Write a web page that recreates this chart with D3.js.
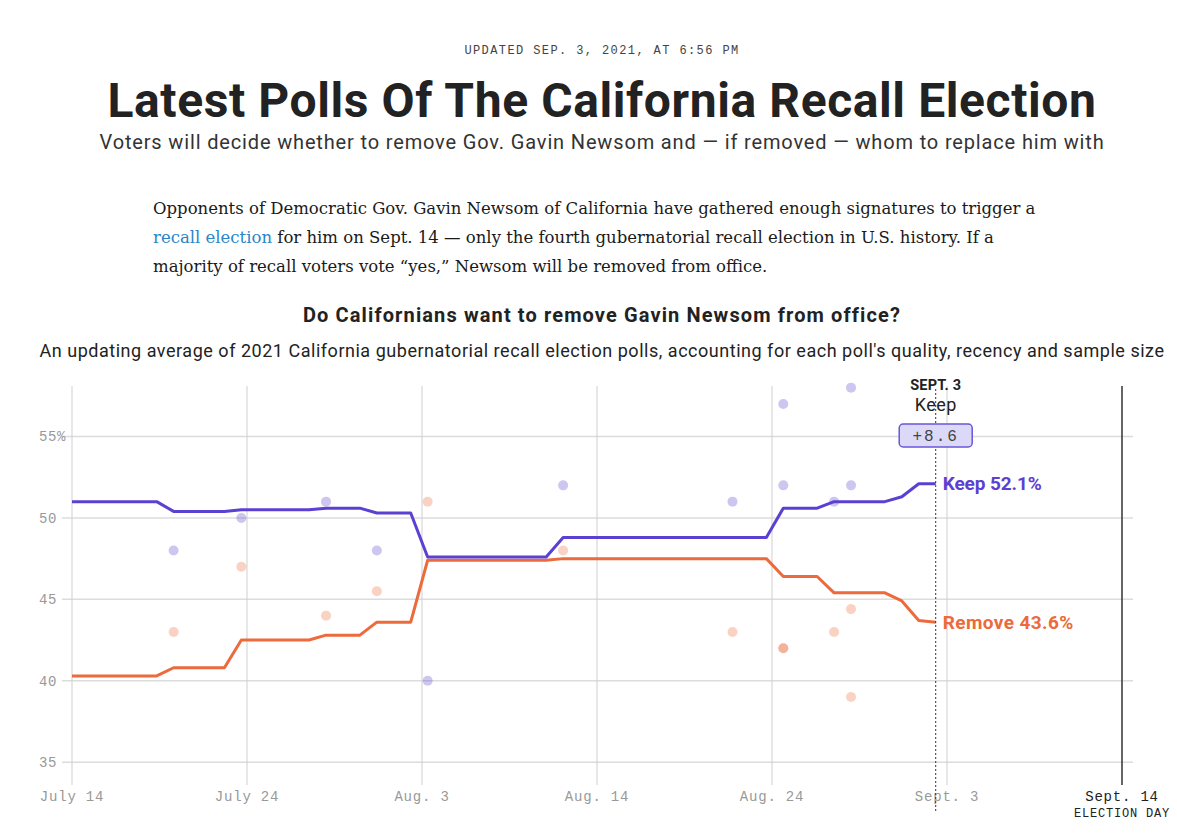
<!DOCTYPE html>
<html><head><meta charset="utf-8">
<script src="https://cdn.jsdelivr.net/npm/d3@7"></script>
<style>
body{margin:0;background:#fff;}
svg{display:block;}
</style>
</head><body>
<svg id="chart" width="1177" height="839"></svg>
<script>
// ---------- DATA ----------
const startDate = "2021-07-14";
const endDate = "2021-09-14";
const latestDate = "2021-09-03";
// daily polling averages, starting July 14
const keepAvg = [51.0,51.0,51.0,51.0,51.0,51.0,
  50.4,50.4,50.4,50.4,
  50.5,50.5,50.5,50.5,50.5,
  50.6,50.6,50.6,
  50.3,50.3,50.3,
  47.6,47.6,47.6,47.6,47.6,47.6,47.6,47.6,
  48.8,48.8,48.8,48.8,48.8,48.8,48.8,48.8,48.8,48.8,48.8,48.8,48.8,
  50.6,50.6,50.6,
  51.0,51.0,51.0,51.0,
  51.3,52.1,52.1];
const removeAvg = [40.3,40.3,40.3,40.3,40.3,40.3,
  40.8,40.8,40.8,40.8,
  42.5,42.5,42.5,42.5,42.5,
  42.8,42.8,42.8,
  43.6,43.6,43.6,
  47.4,47.4,47.4,47.4,47.4,47.4,47.4,47.4,
  47.5,47.5,47.5,47.5,47.5,47.5,47.5,47.5,47.5,47.5,47.5,47.5,47.5,
  46.4,46.4,46.4,
  45.4,45.4,45.4,45.4,
  44.9,43.7,43.6];
// individual polls
const pollDates = ["2021-07-20","2021-07-24","2021-07-29","2021-08-01","2021-08-04","2021-08-12",
  "2021-08-22","2021-08-25","2021-08-25","2021-08-28","2021-08-29","2021-08-29"];
const pollKeep =   [48, 50, 51, 48,   40, 52, 51, 57, 52, 51, 58, 52];
const pollRemove = [43, 47, 44, 45.5, 51, 48, 43, 42, 42, 43, 39, 44.4];
const yTicks = [35, 40, 45, 50, 55];
const xTickLabels = ["July 14","July 24","Aug. 3","Aug. 14","Aug. 24","Sept. 3","Sept. 14"];
const seriesNames = ["Keep","Remove"];
const leadMargin = "+8.6";

// ---------- LAYOUT ----------
const W = 1177, H = 839, CX = 602;
const plotL = 72, plotR = 1122, plotT = 386, plotB = 785;
const keepColor = "#5c40d2", removeColor = "#ec6a3b";
const mono = "'Liberation Mono','DejaVu Sans Mono',monospace";
const sans = "Roboto,'Noto Sans',sans-serif";
const serif = "'DejaVu Serif','Liberation Serif',serif";

const svg = d3.select("#chart");
svg.append("rect").attr("width", W).attr("height", H).attr("fill", "#fff");

// widen text to a target width with letter-spacing (keeps glyph height)
function fit(sel, target) {
  const node = sel.node();
  const len = node.getComputedTextLength();
  const n = node.textContent.length;
  if (n > 1) sel.style("letter-spacing", ((target - len) / n) + "px");
  return sel;
}

const parse = d3.utcParse("%Y-%m-%d");
const t0 = parse(startDate), t1 = parse(endDate), tLatest = parse(latestDate);

const x = d3.scaleUtc().domain([t0, t1]).range([plotL, plotR]);
const y = d3.scaleLinear().domain([33.6, 58.1]).range([plotB, plotT]);

// ---------- HEADER ----------
svg.append("text").attr("x", CX).attr("y", 54).attr("text-anchor", "middle")
  .style("font-family", mono).style("font-size", "12px").style("letter-spacing", "1.4px")
  .attr("fill", "#444").text("UPDATED SEP. 3, 2021, AT 6:56 PM");

fit(svg.append("text").attr("x", CX).attr("y", 117).attr("text-anchor", "middle")
  .style("font-family", sans).style("font-weight", 700).style("font-size", "48px")
  .attr("fill", "#222").text("Latest Polls Of The California Recall Election"), 989);

fit(svg.append("text").attr("x", CX).attr("y", 149).attr("text-anchor", "middle")
  .style("font-family", sans).style("font-size", "20px")
  .attr("fill", "#333").text("Voters will decide whether to remove Gov. Gavin Newsom and \u2014 if removed \u2014 whom to replace him with"), 1005);

const para = [
  [{t:"Opponents of Democratic Gov. Gavin Newsom of California have gathered enough signatures to trigger a"}],
  [{t:"recall election", link:true},{t:" for him on Sept. 14 \u2014 only the fourth gubernatorial recall election in U.S. history. If a"}],
  [{t:"majority of recall voters vote \u201cyes,\u201d Newsom will be removed from office."}]
];
para.forEach((line, i) => {
  const tx = svg.append("text").attr("x", 153).attr("y", 214 + i * 29)
    .style("font-family", serif).style("font-size", "16.5px").attr("fill", "#1a1a1a");
  line.forEach(seg => tx.append("tspan").attr("fill", seg.link ? "#2a86c6" : "#1a1a1a").text(seg.t));
});

fit(svg.append("text").attr("x", CX).attr("y", 322).attr("text-anchor", "middle")
  .style("font-family", sans).style("font-weight", 700).style("font-size", "20px")
  .attr("fill", "#222").text("Do Californians want to remove Gavin Newsom from office?"), 597);

fit(svg.append("text").attr("x", CX).attr("y", 357).attr("text-anchor", "middle")
  .style("font-family", sans).style("font-size", "18px")
  .attr("fill", "#222").text("An updating average of 2021 California gubernatorial recall election polls, accounting for each poll's quality, recency and sample size"), 1125);

// ---------- GRID ----------
const g = svg.append("g");
g.selectAll("line.h").data(yTicks).enter().append("line")
  .attr("x1", plotL - 10).attr("x2", plotR + 11)
  .attr("y1", d => y(d)).attr("y2", d => y(d))
  .attr("stroke", "#dcdcdc").attr("stroke-width", 1.5);

g.selectAll("text.yl").data(yTicks).enter().append("text")
  .attr("x", 39).attr("y", d => y(d)).attr("dy", "0.35em")
  .style("font-family", mono).style("font-size", "14px").style("letter-spacing", "0.6px")
  .attr("fill", "#999").text((d, i) => i === yTicks.length - 1 ? d + "%" : d);

const tickDates = d3.range(xTickLabels.length).map(i => new Date(+t0 + i * (t1 - t0) / (xTickLabels.length - 1)));
g.selectAll("line.v").data(tickDates).enter().append("line")
  .attr("x1", d => x(d)).attr("x2", d => x(d))
  .attr("y1", plotT).attr("y2", plotB)
  .attr("stroke", (d, i) => i === tickDates.length - 1 ? "#333" : "#cfcfcf")
  .attr("stroke-width", (d, i) => i === tickDates.length - 1 ? 1.5 : 1);

g.selectAll("text.xl").data(tickDates).enter().append("text")
  .attr("x", d => x(d)).attr("y", 801).attr("text-anchor", "middle")
  .style("font-family", mono).style("font-size", "14px").style("letter-spacing", "0.8px")
  .attr("fill", (d, i) => i === tickDates.length - 1 ? "#222" : "#999")
  .text((d, i) => xTickLabels[i]);

svg.append("text").attr("x", x(t1)).attr("y", 817).attr("text-anchor", "middle")
  .style("font-family", mono).style("font-size", "12px").style("letter-spacing", "0.8px")
  .attr("fill", "#222").text("ELECTION DAY");

// ---------- POLL DOTS ----------
const polls = pollDates.map((d, i) => ({date: parse(d), keep: pollKeep[i], remove: pollRemove[i]}));
const dots = svg.append("g");
dots.selectAll("circle.k").data(polls).enter().append("circle")
  .attr("cx", d => x(d.date)).attr("cy", d => y(d.keep)).attr("r", 5)
  .attr("fill", keepColor).attr("fill-opacity", 0.3);
dots.selectAll("circle.r").data(polls).enter().append("circle")
  .attr("cx", d => x(d.date)).attr("cy", d => y(d.remove)).attr("r", 5)
  .attr("fill", removeColor).attr("fill-opacity", 0.3);

// ---------- AVERAGE LINES ----------
const avgDates = keepAvg.map((v, i) => d3.utcDay.offset(t0, i));
const line = d3.line().x(d => x(d[0])).y(d => y(d[1]));
svg.append("path").datum(avgDates.map((d, i) => [d, removeAvg[i]]))
  .attr("d", line).attr("fill", "none").attr("stroke", removeColor)
  .attr("stroke-width", 3).attr("stroke-linejoin", "round");
svg.append("path").datum(avgDates.map((d, i) => [d, keepAvg[i]]))
  .attr("d", line).attr("fill", "none").attr("stroke", keepColor)
  .attr("stroke-width", 3).attr("stroke-linejoin", "round");

// ---------- LATEST ANNOTATION ----------
const xl = x(tLatest);
svg.append("line").attr("x1", xl).attr("x2", xl).attr("y1", 389).attr("y2", 812)
  .attr("stroke", "#333").attr("stroke-width", 1).attr("stroke-dasharray", "2,2");

fit(svg.append("text").attr("x", xl).attr("y", 390).attr("text-anchor", "middle")
  .style("font-family", sans).style("font-weight", 700).style("font-size", "14.5px")
  .attr("fill", "#222").text("SEPT. 3"), 51);
fit(svg.append("text").attr("x", xl).attr("y", 411).attr("text-anchor", "middle")
  .style("font-family", sans).style("font-size", "18px")
  .attr("fill", "#222").text(seriesNames[0]), 42);

svg.append("rect").attr("x", xl - 36.5).attr("y", 424).attr("width", 73).attr("height", 23).attr("rx", 4)
  .attr("fill", "#dcd8f8").attr("stroke", "#6a56d8").attr("stroke-width", 1.5);
svg.append("text").attr("x", xl).attr("y", 441).attr("text-anchor", "middle")
  .style("font-family", mono).style("font-size", "16px").style("letter-spacing", "2px")
  .attr("fill", "#444").text(leadMargin);

const lastI = keepAvg.length - 1;
fit(svg.append("text").attr("x", xl + 7).attr("y", y(keepAvg[lastI])).attr("dy", "0.35em")
  .style("font-family", sans).style("font-weight", 700).style("font-size", "19px")
  .attr("fill", keepColor).text(seriesNames[0] + " " + keepAvg[lastI].toFixed(1) + "%"), 99);
fit(svg.append("text").attr("x", xl + 7).attr("y", y(removeAvg[lastI])).attr("dy", "0.35em")
  .style("font-family", sans).style("font-weight", 700).style("font-size", "19px")
  .attr("fill", removeColor).text(seriesNames[1] + " " + removeAvg[lastI].toFixed(1) + "%"), 131);
</script>
</body></html>
